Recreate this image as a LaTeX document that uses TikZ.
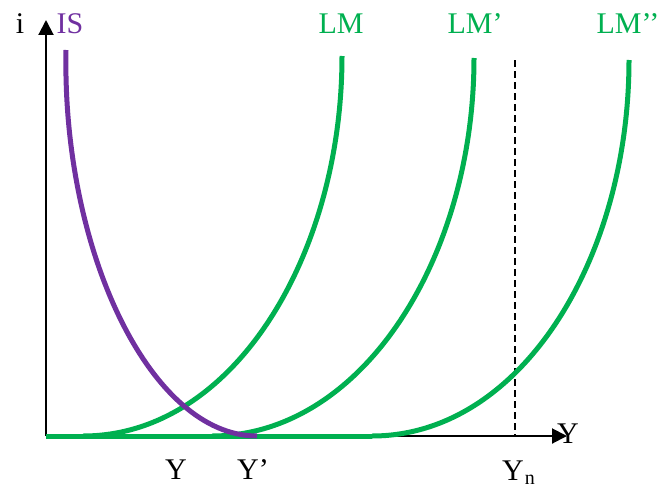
\documentclass[tikz,border=0pt]{standalone}
\usepackage{fontspec}
\setmainfont{Liberation Serif}
\usetikzlibrary{arrows.meta}
\definecolor{lmgreen}{HTML}{00B050}
\definecolor{ispurple}{HTML}{7030A0}
\begin{document}
\begin{tikzpicture}[x=1pt,y=-1pt,
  axis/.style={line width=2pt,-{Triangle[length=15pt,width=15pt]}},
  lmcurve/.style={line width=5pt,lmgreen},
  iscurve/.style={line width=5pt,ispurple},
  lbl/.style={font=\fontsize{30}{30}\selectfont,inner sep=0pt,anchor=base},
  guide/.style={line width=1.5pt,dash pattern=on 7pt off 4pt}]
\useasboundingbox (0,0) rectangle (663,487);
% axes
\coordinate (O) at (46,436);
\coordinate (ytop) at (46,20);
\coordinate (xend) at (567,436);
\draw[axis] (O) -- (ytop);
\draw[axis] (O) -- (xend);
% dashed Yn line
\coordinate (dtop) at (515,60);
\coordinate (dbot) at (515,436);
\draw[guide] (dtop) -- (dbot);
% green baseline and LM curves
\coordinate (b0) at (46,436);
\coordinate (b1) at (372,436);
\draw[lmcurve] (b0) -- (b1);
\coordinate (lm0) at (83,436);
\coordinate (lm1) at (342,56);
\draw[lmcurve] (lm0) .. controls (233,436) and (342,256) .. (lm1);
\coordinate (lmp0) at (212,436);
\coordinate (lmp1) at (474,58);
\draw[lmcurve] (lmp0) .. controls (362,436) and (474,258) .. (lmp1);
\coordinate (lmpp1) at (629,60);
\draw[lmcurve] (b1) .. controls (520,436) and (629,260) .. (lmpp1);
% IS curve
\coordinate (is0) at (66,50);
\coordinate (is1) at (257,436);
\draw[iscurve] (is0) .. controls (62,250) and (150,436) .. (is1);
% labels
\node[lbl] (li) at (20,34) {i};
\node[lbl,text=ispurple] (lis) at (70,34) {IS};
\node[lbl,text=lmgreen] (llm) at (341,34) {LM};
\node[lbl,text=lmgreen] (llmp) at (475,34) {LM’};
\node[lbl,text=lmgreen] (llmpp) at (628,34) {LM’’};
\node[lbl,anchor=base west] (lyax) at (557,443) {Y};
\node[lbl] (ly) at (176,479) {Y};
\node[lbl,anchor=base west] (lyp) at (237,479) {Y’};
\node[lbl,anchor=base west] (lyn) at (502,480) {Y\kern1pt\raisebox{-4pt}{\fontsize{20}{20}\selectfont n}};
\end{tikzpicture}
\end{document}
